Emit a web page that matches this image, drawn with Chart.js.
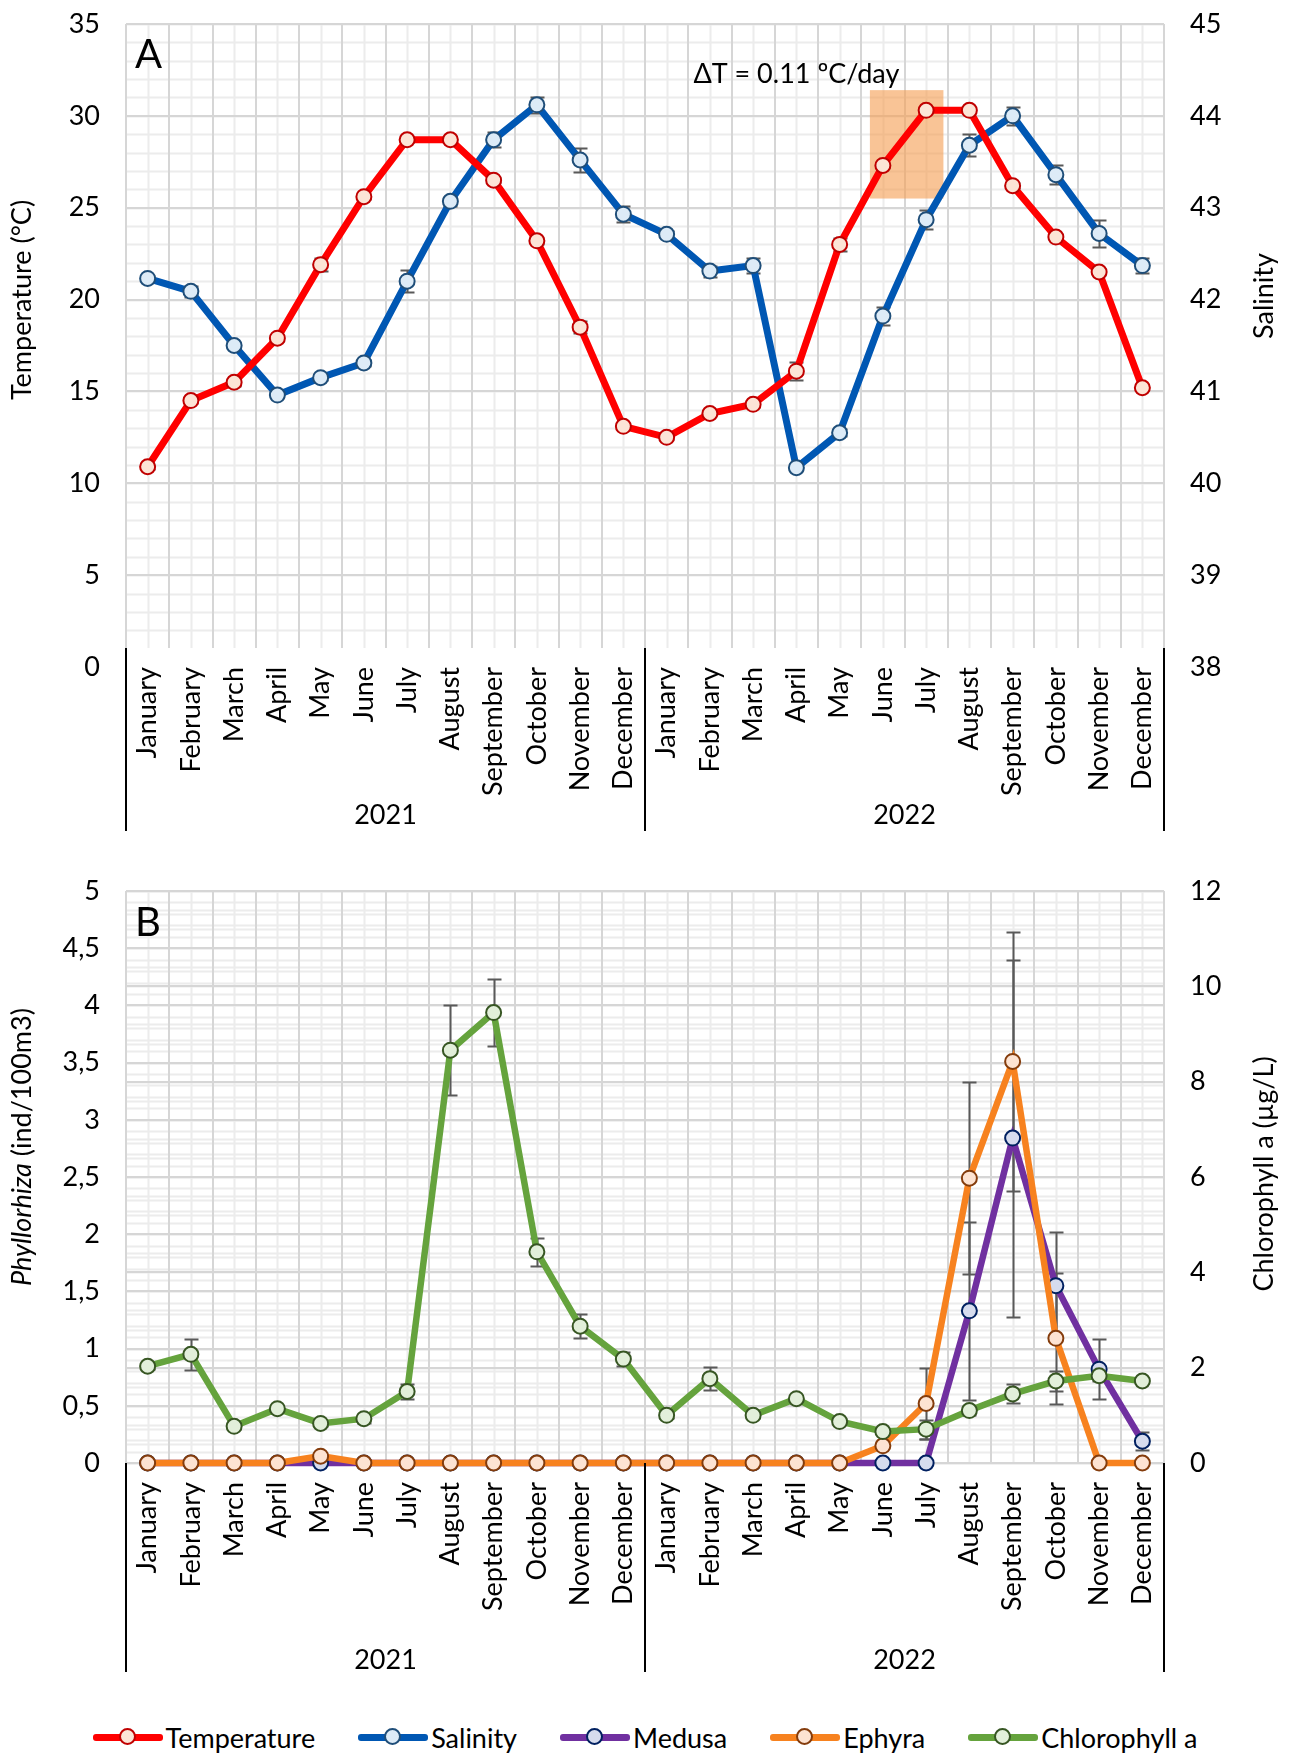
<!DOCTYPE html>
<html>
<head>
<meta charset="utf-8">
<script src="https://cdn.jsdelivr.net/npm/chart.js@4.4.1/dist/chart.umd.min.js"></script>
<style>
  body { margin: 0; background: #fff; width: 1290px; height: 1754px; position: relative; overflow: hidden; font-family: Lato, "Open Sans", sans-serif; }
  #wrapA { position: absolute; left: 0; top: 0; }
  #wrapB { position: absolute; left: 0; top: 845px; }
  #legend { position: absolute; left: 0; top: 1717px; width: 1290px; height: 40px; display: flex; justify-content: center; align-items: center; gap: 43px; }
  .item { display: flex; align-items: center; font-size: 27px; color: #000; }
  .sw { position: relative; width: 70px; height: 7px; border-radius: 3px; margin-right: 3px; }
  .sw i { position: absolute; left: 26px; top: -6px; width: 17px; height: 17px; border-radius: 50%; box-sizing: border-box; border: 2px solid; }
</style>
</head>
<body>
<div id="wrapA"><canvas id="chartA" width="1290" height="845"></canvas></div>
<div id="wrapB"><canvas id="chartB" width="1290" height="855"></canvas></div>
<div id="legend"></div>
<script>
// categories
var months = ['January', 'February', 'March', 'April', 'May', 'June', 'July', 'August', 'September', 'October', 'November', 'December'];
var years = ['2021', '2022'];

// panel A
var temperature = [10.9, 14.5, 15.5, 17.9, 21.9, 25.6, 28.7, 28.7, 26.5, 23.2, 18.5, 13.1,
                   12.5, 13.8, 14.3, 16.1, 23.0, 27.3, 30.3, 30.3, 26.2, 23.4, 21.5, 15.2];
var temperatureErr = [0.1, 0.15, 0.2, 0.15, 0.36, 0.15, 0.1, 0.1, 0.1, 0.15, 0.33, 0.1,
                      0.1, 0.1, 0.15, 0.5, 0.36, 0.1, 0.1, 0.1, 0.15, 0.1, 0.15, 0.1];
var salinity = [42.23, 42.09, 41.5, 40.96, 41.15, 41.31, 42.2, 43.07, 43.74, 44.12, 43.52, 42.93,
                42.71, 42.31, 42.37, 40.17, 40.55, 41.82, 42.87, 43.68, 44.0, 43.36, 42.72, 42.37];
var salinityErr = [0.03, 0.06, 0.03, 0.03, 0.03, 0.03, 0.12, 0.05, 0.08, 0.09, 0.13, 0.09,
                   0.04, 0.06, 0.08, 0.04, 0.04, 0.1, 0.1, 0.12, 0.1, 0.1, 0.15, 0.08];
// warming window highlighted in panel A (category index range, temperature range)
var warmFrom = 16.7, warmTo = 18.4, warmLow = 25.5, warmHigh = 31.4;
var warmLabel = '\u0394T = 0.11 \u00BAC/day';

// panel B
var medusa = [0, 0, 0, 0, 0, 0, 0, 0, 0, 0, 0, 0,
              0, 0, 0, 0, 0, 0, 0, 1.33, 2.84, 1.55, 0.82, 0.19];
var medusaErr = [0, 0, 0, 0, 0, 0, 0, 0, 0, 0, 0, 0,
                 0, 0, 0, 0, 0, 0, 0, 0.78, 1.56, 0.47, 0.26, 0.08];
var ephyra = [0, 0, 0, 0, 0.06, 0, 0, 0, 0, 0, 0, 0,
              0, 0, 0, 0, 0, 0.15, 0.52, 2.49, 3.51, 1.09, 0, 0];
var ephyraErr = [0, 0, 0, 0, 0, 0, 0, 0, 0, 0, 0, 0,
                 0, 0, 0, 0, 0, 0, 0.31, 0.84, 1.13, 0.57, 0, 0];
var chlorophyll = [2.03, 2.28, 0.77, 1.14, 0.83, 0.93, 1.50, 8.66, 9.45, 4.43, 2.87, 2.18,
                   1.0, 1.77, 1.0, 1.35, 0.87, 0.66, 0.71, 1.10, 1.45, 1.72, 1.83, 1.72];
var chlorophyllErr = [0.05, 0.33, 0.05, 0.05, 0.05, 0.1, 0.15, 0.95, 0.7, 0.3, 0.25, 0.15,
                      0.05, 0.24, 0.05, 0.05, 0.05, 0.05, 0.2, 0.1, 0.2, 0.21, 0.1, 0.05];

var FONT = '27px Lato, "Open Sans", sans-serif';
var GRID = '#d6d6d6';
var MINOR = '#ececec';
var ERR = '#595959';

var labels = [];
years.forEach(function (y) { months.forEach(function (m) { labels.push(m); }); });

var series = {
    temperature: { label: 'Temperature', line: '#ff0000', fill: '#fce4d6', edge: '#c00000' },
    salinity: { label: 'Salinity', line: '#0057b3', fill: '#ddebf7', edge: '#1f4e79' },
    medusa: { label: 'Medusa', line: '#7030a0', fill: '#d6dcee', edge: '#002060' },
    ephyra: { label: 'Ephyra', line: '#f7821f', fill: '#fde3d2', edge: '#843c0c' },
    chlorophyll: { label: 'Chlorophyll a', line: '#65a33d', fill: '#e2efda', edge: '#375623' }
};

function lineSet(key, data, err, axis, width, order) {
    var s = series[key];
    return {
        label: s.label, data: data, errors: err, yAxisID: axis, order: order, clip: false,
        borderColor: s.line, borderWidth: width, backgroundColor: s.fill,
        pointBackgroundColor: s.fill, pointBorderColor: s.edge, pointBorderWidth: 2,
        pointRadius: 7.5, tension: 0
    };
}

// light grid lines at category centres and at minor steps of the value axes
var minorGrid = {
    id: 'minorGrid',
    beforeDraw: function (chart, args, o) {
        var ctx = chart.ctx, a = chart.chartArea, x = chart.scales.x;
        ctx.save();
        ctx.strokeStyle = MINOR;
        ctx.lineWidth = 2;
        for (var i = 0; i < labels.length; i++) {
            var px = Math.round(x.getPixelForValue(i)) + 0.5;
            ctx.beginPath(); ctx.moveTo(px, a.top); ctx.lineTo(px, a.bottom); ctx.stroke();
        }
        (o.steps || []).forEach(function (st) {
            var sc = chart.scales[st.axis];
            for (var v = sc.min; v <= sc.max + 1e-9; v += st.step) {
                var py = Math.round(sc.getPixelForValue(v)) + 0.5;
                ctx.beginPath(); ctx.moveTo(a.left, py); ctx.lineTo(a.right, py); ctx.stroke();
            }
        });
        ctx.restore();
    }
};

// white strip over the bottom of the plot (where the category axis sits), highlight box, error bars
var underlay = {
    id: 'underlay',
    beforeDatasetsDraw: function (chart, args, o) {
        var ctx = chart.ctx, a = chart.chartArea;
        ctx.save();
        if (o.lift) {
            ctx.fillStyle = '#fff';
            ctx.fillRect(a.left - 2, a.bottom - o.lift, a.right - a.left + 4, o.lift + 2);
        }
        if (o.box) {
            var x = chart.scales.x, y = chart.scales.y;
            var x0 = x.getPixelForValue(o.box.from), x1 = x.getPixelForValue(o.box.to);
            var y0 = y.getPixelForValue(o.box.high), y1 = y.getPixelForValue(o.box.low);
            ctx.fillStyle = 'rgba(245,157,80,0.6)';
            ctx.fillRect(x0, y0, x1 - x0, y1 - y0);
        }
        ctx.strokeStyle = ERR;
        ctx.lineWidth = 2;
        chart.data.datasets.forEach(function (ds) {
            if (!ds.errors) return;
            var sc = chart.scales[ds.yAxisID], x = chart.scales.x;
            ds.data.forEach(function (v, i) {
                var e = ds.errors[i];
                if (!e) return;
                var px = Math.round(x.getPixelForValue(i)) + 0.5;
                var yt = Math.round(sc.getPixelForValue(v + e)) + 0.5;
                var yb = Math.round(sc.getPixelForValue(Math.max(v - e, sc.min))) + 0.5;
                ctx.beginPath();
                ctx.moveTo(px, yt); ctx.lineTo(px, yb);
                ctx.moveTo(px - 7, yt); ctx.lineTo(px + 7, yt);
                if (v - e >= sc.min) { ctx.moveTo(px - 7, yb); ctx.lineTo(px + 7, yb); }
                ctx.stroke();
            });
        });
        ctx.restore();
    }
};

// year level of the category axis, axis titles and panel texts
var overlay = {
    id: 'overlay',
    afterDraw: function (chart, args, o) {
        var ctx = chart.ctx, a = chart.chartArea, x = chart.scales.x;
        ctx.save();
        ctx.strokeStyle = '#000';
        ctx.lineWidth = 2;
        for (var g = 0; g <= years.length; g++) {
            var px = Math.round(x.getPixelForValue(g * months.length - 0.5));
            ctx.beginPath(); ctx.moveTo(px, a.bottom - (o.lift || 0)); ctx.lineTo(px, a.bottom + o.lineEnd); ctx.stroke();
        }
        ctx.fillStyle = '#000';
        ctx.font = FONT;
        ctx.textAlign = 'center';
        ctx.textBaseline = 'middle';
        years.forEach(function (yr, g) {
            ctx.fillText(yr, x.getPixelForValue(g * months.length + (months.length - 1) / 2), a.bottom + o.yearY);
        });
        o.titles.forEach(function (t) {
            ctx.save();
            ctx.translate(t.x, t.y);
            ctx.rotate(-Math.PI / 2);
            var w = 0;
            t.parts.forEach(function (p) { ctx.font = (p.italic ? 'italic ' : '') + FONT; w += ctx.measureText(p.text).width; });
            var cx = -w / 2;
            ctx.textAlign = 'left';
            t.parts.forEach(function (p) {
                ctx.font = (p.italic ? 'italic ' : '') + FONT;
                ctx.fillText(p.text, cx, 0);
                cx += ctx.measureText(p.text).width;
            });
            ctx.restore();
        });
        ctx.textAlign = 'left';
        ctx.font = '40px Lato, "Open Sans", sans-serif';
        ctx.fillText(o.panel, a.left + 9, a.top + o.panelY);
        if (o.note) {
            ctx.font = FONT;
            ctx.textAlign = 'center';
            ctx.fillText(o.note.text, x.getPixelForValue(o.note.at), a.top + o.note.dy);
        }
        ctx.restore();
    }
};

function xAxis(height, pad) {
    return {
        offset: true,
        grid: { offset: true, color: GRID, lineWidth: 2, drawTicks: false },
        border: { display: false },
        ticks: { minRotation: 90, maxRotation: 90, autoSkip: false, font: { family: 'Lato', size: 27 }, color: '#000', padding: pad, z: 1 },
        afterFit: function (s) { s.height = height; s.paddingLeft = 0; s.paddingRight = 0; }
    };
}
function yAxis(pos, min, max, step, gridOn, fmt) {
    return {
        position: pos, min: min, max: max,
        ticks: { stepSize: step, font: { family: 'Lato', size: 27 }, color: '#000', padding: 26, callback: fmt },
        grid: { display: gridOn, color: GRID, lineWidth: 2, drawTicks: false },
        border: { display: false },
        afterFit: function (s) { s.width = 126; s.paddingTop = 0; s.paddingBottom = 0; }
    };
}
function comma(v) { return String(v).replace('.', ','); }

new Chart(document.getElementById('chartA'), {
    type: 'line',
    data: {
        labels: labels,
        datasets: [
            lineSet('temperature', temperature, temperatureErr, 'y', 7, 0),
            lineSet('salinity', salinity, salinityErr, 'yR', 7, 1)
        ]
    },
    options: {
        responsive: false, animation: false, devicePixelRatio: 1,
        layout: { padding: { top: 24 }, autoPadding: false },
        plugins: {
            legend: { display: false }, tooltip: { enabled: false },
            minorGrid: { steps: [{ axis: 'y', step: 1 }] },
            underlay: { lift: 19, box: { from: warmFrom, to: warmTo, low: warmLow, high: warmHigh } },
            overlay: {
                lift: 19, lineEnd: 164, yearY: 148, panel: 'A', panelY: 31,
                note: { text: warmLabel, at: 15.0, dy: 50 },
                titles: [
                    { x: 22, y: 300, parts: [{ text: 'Temperature (\u00B0C)' }] },
                    { x: 1264, y: 296, parts: [{ text: 'Salinity' }] }
                ]
            }
        },
        scales: {
            x: xAxis(178, 0),
            y: yAxis('left', 0, 35, 5, true),
            yR: yAxis('right', 38, 45, 1, false)
        }
    },
    plugins: [minorGrid, underlay, overlay]
});

new Chart(document.getElementById('chartB'), {
    type: 'line',
    data: {
        labels: labels,
        datasets: [
            lineSet('medusa', medusa, medusaErr, 'y', 6.5, 2),
            lineSet('ephyra', ephyra, ephyraErr, 'y', 6.5, 1),
            lineSet('chlorophyll', chlorophyll, chlorophyllErr, 'yR', 6.5, 0)
        ]
    },
    options: {
        responsive: false, animation: false, devicePixelRatio: 1,
        layout: { padding: { top: 46 }, autoPadding: false },
        plugins: {
            legend: { display: false }, tooltip: { enabled: false },
            minorGrid: { steps: [{ axis: 'y', step: 0.1 }, { axis: 'yR', step: 0.4 }] },
            underlay: {},
            overlay: {
                lineEnd: 209, yearY: 197, panel: 'B', panelY: 32,
                titles: [
                    { x: 22, y: 302, parts: [{ text: 'Phyllorhiza', italic: true }, { text: ' (ind/100m3)' }] },
                    { x: 1264, y: 329, parts: [{ text: 'Chlorophyll a (\u00B5g/L)' }] }
                ]
            }
        },
        scales: {
            x: xAxis(237, 19),
            y: yAxis('left', 0, 5, 0.5, true, comma),
            yR: yAxis('right', 0, 12, 2, true)
        }
    },
    plugins: [minorGrid, underlay, overlay]
});

// shared legend for both panels
var legend = document.getElementById('legend');
['temperature', 'salinity', 'medusa', 'ephyra', 'chlorophyll'].forEach(function (k) {
    var s = series[k];
    var item = document.createElement('div');
    item.className = 'item';
    item.innerHTML = '<span class="sw" style="background:' + s.line + '"><i style="background:' + s.fill + ';border-color:' + s.edge + '"></i></span>' + s.label;
    legend.appendChild(item);
});
</script>
</body>
</html>
